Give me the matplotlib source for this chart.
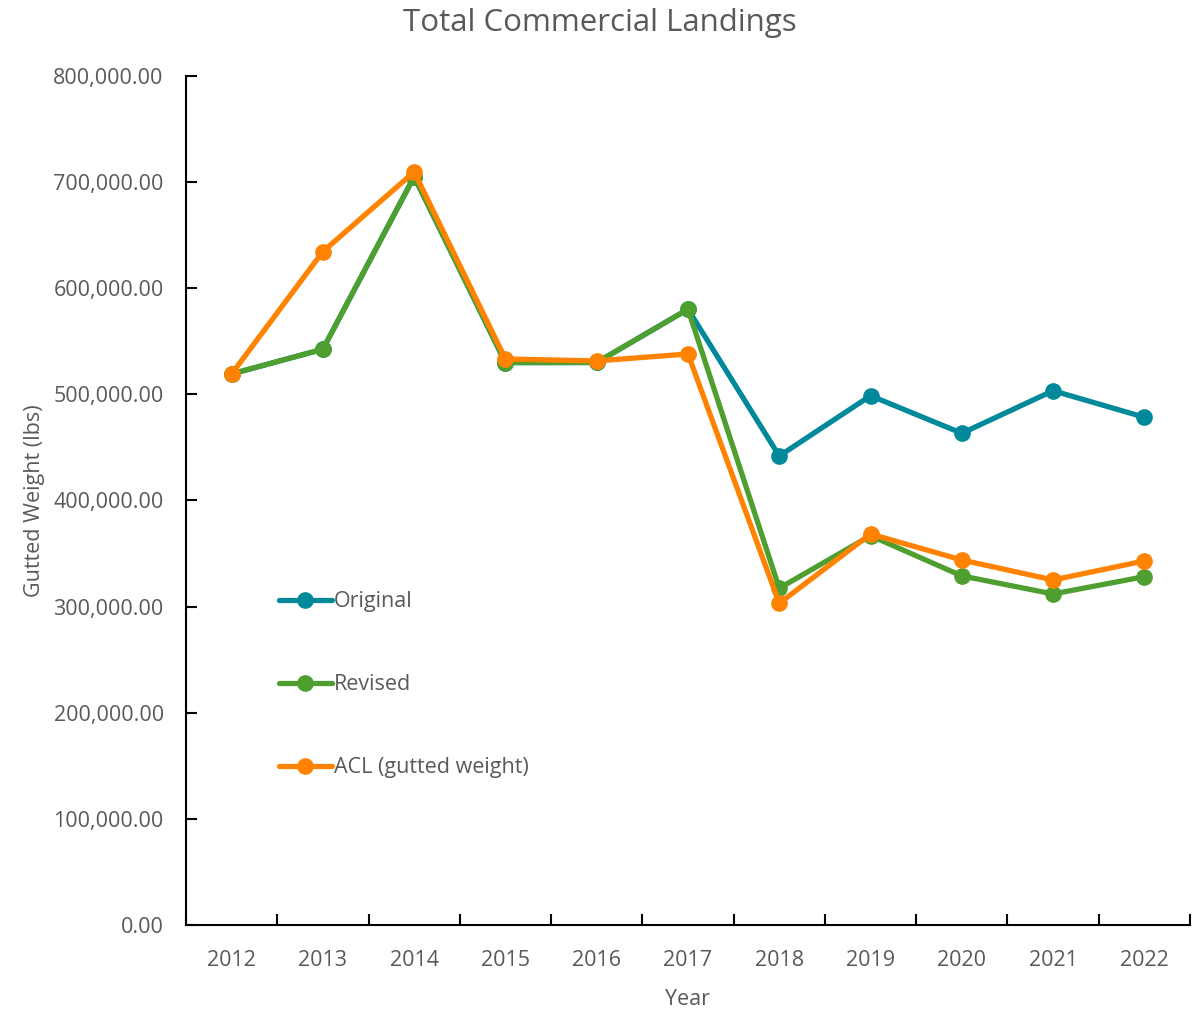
import matplotlib.pyplot as plt
import numpy as np
from matplotlib.ticker import FuncFormatter, FixedLocator

plt.rcParams['font.family'] = ['Open Sans', 'DejaVu Sans']

years = ['2012', '2013', '2014', '2015', '2016', '2017', '2018', '2019', '2020', '2021', '2022']
original = [519200, 542500, 705100, 529900, 530000, 580200, 441900, 498700, 463300, 503400, 478400]
revised = [519200, 542500, 705100, 529900, 530000, 580200, 317300, 366800, 328900, 311900, 328200]
acl = [519200, 634500, 709600, 533300, 531500, 538000, 303100, 368400, 343900, 325100, 343000]

series_names = ['Original', 'Revised', 'ACL (gutted weight)']
colors = ['#00899B', '#4E9F2F', '#FF8200']

txt = '#595959'
fig = plt.figure(figsize=(11.99, 10.10), dpi=100)
ax = fig.add_axes([0.1551, 0.0842, 0.8374, 0.8406])

x = np.arange(len(years))
for vals, name, c in zip([original, revised, acl], series_names, colors):
    ax.plot(x, vals, color=c, lw=3.8, marker='o', markersize=11,
            solid_capstyle='round', solid_joinstyle='round', label=name)

ax.set_xlim(-0.5, len(years) - 0.5)
ax.set_ylim(0, 800000)
ax.set_yticks(np.arange(0, 800001, 100000))
ax.yaxis.set_major_formatter(FuncFormatter(lambda v, p: f'{v:,.2f}'))

ax.set_xticks(x)
ax.set_xticklabels(years)
ax.xaxis.set_minor_locator(FixedLocator(np.arange(-0.5, len(years), 1.0)))
ax.tick_params(axis='x', which='major', length=0, pad=18, labelsize=15.5, labelcolor=txt)
ax.tick_params(axis='x', which='minor', direction='in', length=8, width=1.5, color='black')
ax.tick_params(axis='y', direction='in', length=8, width=1.5, color='black',
               pad=16, labelsize=15.5, labelcolor=txt)

for s in ['top', 'right']:
    ax.spines[s].set_visible(False)
for s in ['left', 'bottom']:
    ax.spines[s].set_linewidth(1.5)

ax.set_xlabel('Year', fontsize=15.5, color=txt, labelpad=13)
ax.set_ylabel('Gutted Weight (lbs)', fontsize=15.5, color=txt, labelpad=6)
fig.suptitle('Total Commercial Landings', fontsize=22.5, color=txt, y=0.992)

ax.legend(loc='upper left', bbox_to_anchor=(0.084, 0.403), frameon=False,
          fontsize=15.5, labelcolor=txt, handlelength=2.45, handletextpad=0.1,
          labelspacing=2.88, borderaxespad=0)

fig.savefig('out.png', dpi=100)
